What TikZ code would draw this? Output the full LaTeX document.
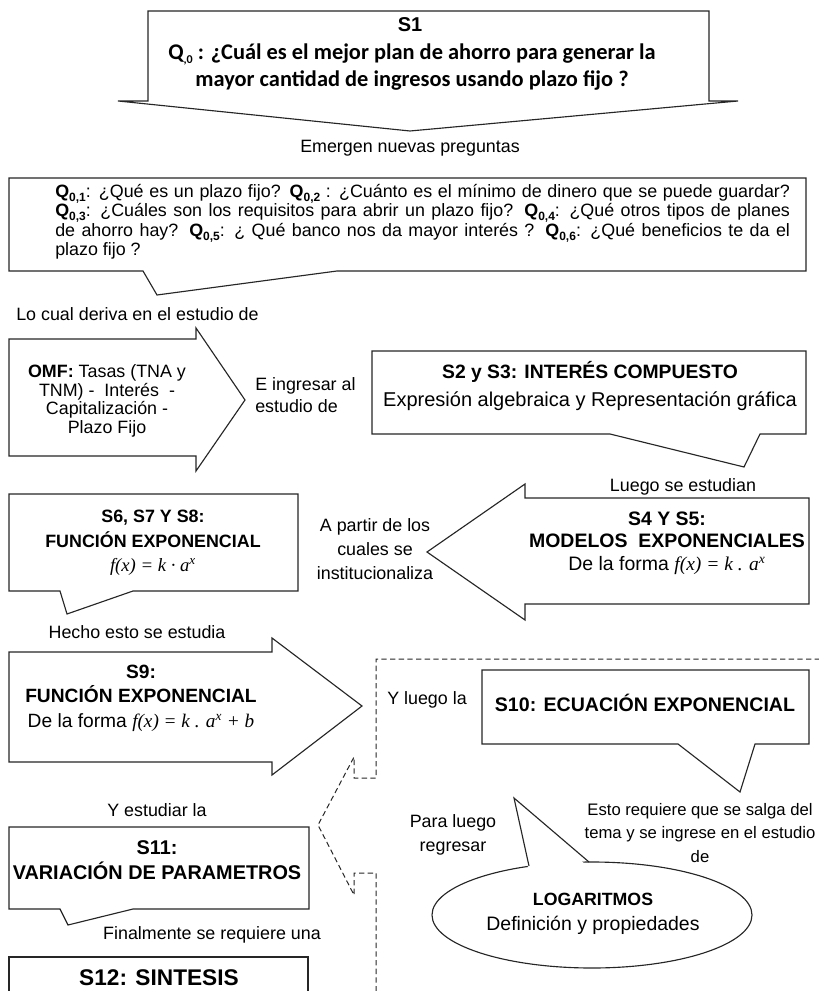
\documentclass[tikz,border=0pt]{standalone}
\usepackage{fontspec}
\setmainfont{Liberation Sans}
\newfontfamily\calfont{Carlito}
\newfontfamily\timesfont{Liberation Serif}
\newcommand{\qsub}[1]{\raisebox{-0.4ex}{\fontsize{9}{9}\selectfont #1}}
\newcommand{\fx}[1]{{\timesfont\itshape #1}}
\newcommand{\fsz}[2]{\fontsize{#1}{#2}\selectfont}
\begin{document}
\begin{tikzpicture}[x=0.75pt,y=-0.75pt,
  shp/.style={draw=black!85,line width=0.85pt,fill=white},
  lbl/.style={font=\fsz{13.4}{16},align=center,inner sep=0pt},
  ttl/.style={font=\bfseries\fsz{13.4}{16},align=center,inner sep=0pt},
  dsh/.style={draw=black!85,line width=0.75pt,dash pattern=on 4pt off 2.5pt}]
\useasboundingbox (0,0) rectangle (818,991);
% shapes
\draw[shp] (148,11) -- (709,11) -- (709,101) -- (738,101) -- (410,131) -- (118,101) -- (148,101) -- cycle; %S1
\draw[shp] (9,178) -- (806,178) -- (806,271) -- (337,271) -- (157,295) -- (143,271) -- (9,271) -- cycle; %preguntas
\draw[shp] (9,339) -- (196,339) -- (196,328) -- (245,400) -- (196,471) -- (196,456) -- (9,456) -- cycle; %OMF
\draw[shp] (372,351) -- (806,351) -- (806,434) -- (760,434) -- (744,467) -- (610,434) -- (372,434) -- cycle; %S2
\draw[shp] (809,498) -- (809,604) -- (525,604) -- (525,620) -- (427,552) -- (525,484) -- (525,498) -- cycle; %S4
\draw[shp] (9,494) -- (298,494) -- (298,591) -- (133,591) -- (67,614) -- (60,591) -- (9,591) -- cycle; %S6
\draw[shp] (9,652) -- (272,652) -- (272,638) -- (362,706) -- (272,775) -- (272,762) -- (9,762) -- cycle; %S9
\draw[shp] (482,670) -- (809,670) -- (809,744) -- (755,744) -- (740,792) -- (678,744) -- (482,744) -- cycle; %S10
\draw[shp] (9,827) -- (309,827) -- (309,909) -- (133,909) -- (68,925) -- (60,909) -- (9,909) -- cycle; %S11
\draw[shp] (9,1000) -- (9,957) -- (308,957) -- (308,1000); %S12
% logaritmos
\draw[shp] (592,915) ellipse [x radius=120pt, y radius=39.75pt];
\fill[white] (529,872) -- (514,798) -- (589,868) -- cycle;
\draw[draw=black!85,line width=0.85pt] (529,866) -- (514,798) -- (589,862);
% dashed frame
\draw[dsh] (820,659) -- (376,659) -- (376,778) -- (354,778) -- (354,757) -- (318,825) -- (354,895) -- (354,873) -- (376,873) -- (376,995);
% texts
\node[ttl,font=\bfseries\fsz{15}{18}] (s1) at (410,25) {S1};
\node[font=\calfont\bfseries\fsz{16.8}{20.3},align=center,inner sep=0pt] (q0) at (412,67)
  {Q\qsub{,0} : ¿Cuál es el mejor plan de ahorro para generar la\\ mayor cantidad de ingresos usando plazo fijo ?};
\foreach \n/\x/\y/\t in {emerge/410/148/Emergen nuevas preguntas, hecho/137/632/Hecho esto se estudia,
  luego/683/487/Luego se estudian, yluego/427/700/Y luego la, yestudiar/157/810/Y estudiar la,
  final/212/935/Finalmente se requiere una}
  \node[lbl] (\n) at (\x,\y) {\t};
\node[lbl,anchor=west] (deriva) at (16,314) {Lo cual deriva en el estudio de};
\node[lbl,text width=551pt,align=justify,anchor=north west,font=\fsz{13.4}{14.6}] (qtext) at (55,184)
  {\textbf{Q}\qsub{\textbf{0,1}}: ¿Qué es un plazo fijo? \textbf{Q}\qsub{\textbf{0,2}} : ¿Cuánto es el mínimo de dinero que se puede guardar?\linebreak
   \textbf{Q}\qsub{\textbf{0,3}}: ¿Cuáles son los requisitos para abrir un plazo fijo? \textbf{Q}\qsub{\textbf{0,4}}: ¿Qué otros tipos de planes\linebreak
   de ahorro hay? \textbf{Q}\qsub{\textbf{0,5}}: ¿ Qué banco nos da mayor interés ? \textbf{Q}\qsub{\textbf{0,6}}: ¿Qué beneficios te da el\linebreak
   plazo fijo ?};
\node[lbl,font=\fsz{13.4}{13.9}] (omf) at (107,401) {\textbf{OMF:} Tasas (TNA y\\TNM) - \ Interés \ -\\Capitalización -\\Plazo Fijo};
\node[lbl,align=left,anchor=west] (ingresar) at (255,395) {E ingresar al\\estudio de};
\node[ttl,font=\bfseries\fsz{14.5}{21}] (s2) at (590,386) {S2 y S3: INTERÉS COMPUESTO\\{\mdseries\fsz{15}{21}Expresión algebraica y Representación gráfica}};
\node[ttl,font=\bfseries\fsz{14.6}{16.9}] (s4) at (667,543) {S4 Y S5:\\MODELOS \ EXPONENCIALES\\{\mdseries De la forma \fx{f(x) = k . a\textsuperscript{x}}}};
\node[lbl,font=\fsz{13.4}{18}] (apartir) at (375,549) {A partir de los\\cuales se\\institucionaliza};
\node[ttl,font=\bfseries\fsz{13.4}{18.5}] (s6) at (153,543) {S6, S7 Y S8:\\FUNCIÓN EXPONENCIAL\\{\mdseries\fx{\fsz{14}{18.5}f(x) = k · a\textsuperscript{x}}}};
\node[ttl,font=\bfseries\fsz{14.4}{18.4}] (s9) at (141,698) {S9:\\FUNCIÓN EXPONENCIAL\\{\mdseries De la forma \fx{f(x) = k . a\textsuperscript{x} + b}}};
\node[ttl,font=\bfseries\fsz{14.7}{17}] (s10) at (645,703) {S10: ECUACIÓN EXPONENCIAL};
\node[ttl,font=\bfseries\fsz{14.9}{18.7}] (s11) at (157,860) {S11:\\VARIACIÓN DE PARAMETROS};
\node[ttl,font=\bfseries\fsz{17}{20}] (s12) at (159,978) {S12: SINTESIS};
\node[lbl,font=\fsz{13.4}{18}] (regresar) at (453,835) {Para luego\\regresar};
\node[lbl,font=\fsz{12.5}{17.6}] (salir) at (700,833) {Esto requiere que se salga del\\tema y se ingrese en el estudio\\de};
\node[ttl,font=\bfseries\fsz{13.3}{19}] (log) at (593,914) {LOGARITMOS\\{\mdseries\fsz{14.6}{19}Definición y propiedades}};
\end{tikzpicture}
\end{document}
